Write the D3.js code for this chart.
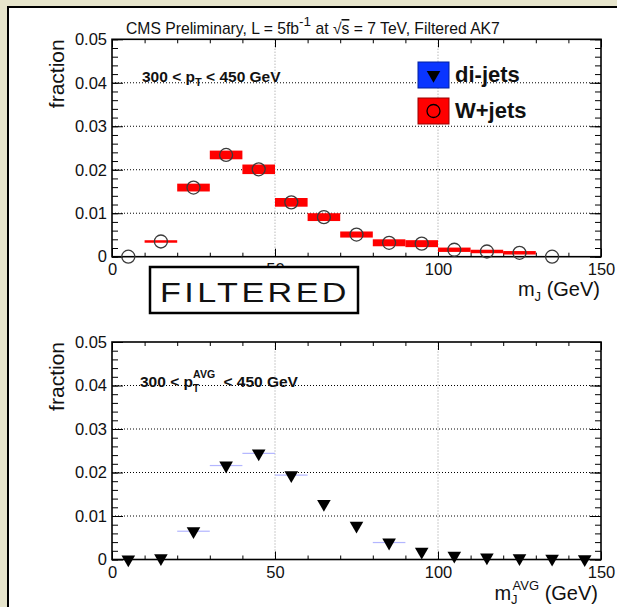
<!DOCTYPE html>
<html><head><meta charset="utf-8">
<script src="https://cdn.jsdelivr.net/npm/d3@7"></script>
<style>
body{margin:0;padding:0;overflow:hidden;background:#e7e5cc;}
text{font-family:"Liberation Sans",Arial,Helvetica,sans-serif;}
</style></head><body>
<svg id="c" width="617" height="607"></svg>
<script>
// ---- data ----
const binCenters = [5,15,25,35,45,55,65,75,85,95,105,115,125,135,145];
const wjetsBins  = [5,15,25,35,45,55,65,75,85,95,105,115,125,135];
const wjetsVals  = [0,0.0035,0.0159,0.0234,0.0201,0.0125,0.0091,0.0051,0.0032,0.0030,0.0016,0.0012,0.0009,0];
const wjetsErr   = [0,0.0002,0.0009,0.0010,0.0011,0.0010,0.0009,0.0007,0.0008,0.0008,0.0005,0.0004,0.0004,0];
const dijetVals  = [0,0.0003,0.0065,0.0216,0.0244,0.0194,0.0128,0.0078,0.0039,0.0018,0.0009,0.0005,0.0003,0.0002,0.0001];
const dijetErr   = [0,0,0.0001,0.0001,0.0001,0.0001,0,0,0.0001,0,0,0,0,0,0];
const xTicks = [0,50,100,150];
const xMinor = [10,20,30,40,60,70,80,90,110,120,130,140];
const yTicks = [0,0.01,0.02,0.03,0.04,0.05];
const yMinor = d3.range(0,0.0501,0.002);
const binWidth = 10;

(function(){
const svg = d3.select("#c");
svg.append("rect").attr("x",0).attr("y",0).attr("width",617).attr("height",607).attr("fill","#e7e5cc");
svg.append("rect").attr("x",8).attr("y",7).attr("width",640).attr("height",640)
  .attr("fill","#fff").attr("stroke","#000").attr("stroke-width",2);

const x = d3.scaleLinear().domain([0,150]).range([112,601]);
const yTop = d3.scaleLinear().domain([0,0.05]).range([256.7,39.3]);
const yBot = d3.scaleLinear().domain([0,0.05]).range([559.5,342]);
const yFmt = d => d===0 ? "0" : d3.format(".2f")(d);

function frame(y){
  const g = svg.append("g");
  const [y0,y1] = y.range();
  g.selectAll("line.hg").data(yTicks.filter(d=>d>0&&d<0.05)).join("line")
    .attr("x1",x(0)).attr("x2",x(150)).attr("y1",d=>y(d)).attr("y2",d=>y(d))
    .attr("stroke","#000").attr("stroke-width",1).attr("stroke-dasharray","1,2");
  g.selectAll("line.vg").data([50,100]).join("line")
    .attr("y1",y0).attr("y2",y1).attr("x1",d=>x(d)).attr("x2",d=>x(d))
    .attr("stroke","#999").attr("stroke-width",1).attr("stroke-dasharray","1,2");
  const ax = (a)=>a.call(s=>s.select(".domain").remove());
  g.append("g").attr("transform",`translate(${x(0)},0)`)
    .call(d3.axisLeft(y).tickValues(yTicks).tickSize(-11).tickPadding(5).tickFormat(yFmt)).call(ax);
  g.append("g").attr("transform",`translate(${x(0)},0)`)
    .call(d3.axisLeft(y).tickValues(yMinor).tickSize(-6).tickFormat("")).call(ax);
  g.append("g").attr("transform",`translate(${x(150)},0)`)
    .call(d3.axisRight(y).tickValues(yTicks).tickSize(-11).tickFormat("")).call(ax);
  g.append("g").attr("transform",`translate(${x(150)},0)`)
    .call(d3.axisRight(y).tickValues(yMinor).tickSize(-6).tickFormat("")).call(ax);
  g.append("g").attr("transform",`translate(0,${y0})`)
    .call(d3.axisBottom(x).tickValues(xTicks).tickSize(-8).tickPadding(7).tickFormat(d3.format("d"))).call(ax);
  g.append("g").attr("transform",`translate(0,${y0})`)
    .call(d3.axisBottom(x).tickValues(xMinor).tickSize(-4).tickFormat("")).call(ax);
  g.append("g").attr("transform",`translate(0,${y1})`)
    .call(d3.axisTop(x).tickValues(xTicks).tickSize(-8).tickFormat("")).call(ax);
  g.append("g").attr("transform",`translate(0,${y1})`)
    .call(d3.axisTop(x).tickValues(xMinor).tickSize(-4).tickFormat("")).call(ax);
  g.selectAll(".tick line").attr("stroke","#000").attr("stroke-width",1);
  g.selectAll(".tick text").attr("font-size",16.5).attr("fill","#111")
    .attr("font-family","'Liberation Sans',Arial,sans-serif");
  g.append("rect").attr("x",x(0)).attr("y",y1).attr("width",x(150)-x(0)).attr("height",y0-y1)
    .attr("fill","none").attr("stroke","#000").attr("stroke-width",1.6);
  g.append("text").attr("transform",`translate(64,${y1}) rotate(-90)`)
    .attr("text-anchor","end").attr("font-size",21).attr("fill","#111").text("fraction");
  return g;
}

// ---- top panel ----
frame(yTop);
const gTop = svg.append("g");
gTop.selectAll("rect.w").data(wjetsBins.map((c,i)=>({c,v:wjetsVals[i],e:wjetsErr[i]})).filter(d=>d.v>0)).join("rect")
  .attr("x",d=>x(d.c-binWidth/2)).attr("width",d=>x(d.c+binWidth/2)-x(d.c-binWidth/2))
  .attr("y",d=>{const h=Math.max(2.5,yTop(d.v-d.e)-yTop(d.v+d.e));return yTop(d.v)-h/2;})
  .attr("height",d=>Math.max(2.5,yTop(d.v-d.e)-yTop(d.v+d.e)))
  .attr("fill","#ff0000");
gTop.selectAll("circle").data(wjetsBins.map((c,i)=>({c,v:wjetsVals[i]}))).join("circle")
  .attr("cx",d=>x(d.c)).attr("cy",d=>yTop(d.v)).attr("r",6.5)
  .attr("fill","none").attr("stroke","#3a3a3a").attr("stroke-width",1.3);

// ---- bottom panel ----
frame(yBot);
const gBot = svg.append("g");
gBot.selectAll("rect.d").data(binCenters.map((c,i)=>({c,v:dijetVals[i],e:dijetErr[i]})).filter(d=>d.e>0)).join("rect")
  .attr("x",d=>x(d.c-binWidth/2)).attr("width",d=>x(d.c+binWidth/2)-x(d.c-binWidth/2))
  .attr("y",d=>{const h=Math.max(1.2,yBot(d.v-d.e)-yBot(d.v+d.e));return yBot(d.v)-h/2;})
  .attr("height",d=>Math.max(1.2,yBot(d.v-d.e)-yBot(d.v+d.e)))
  .attr("fill","#b3b6ff");
const tri = d3.symbol().type(d3.symbolTriangle).size(80);
gBot.selectAll("path.t").data(binCenters.map((c,i)=>({c,v:dijetVals[i]}))).join("path")
  .attr("d",tri).attr("transform",d=>`translate(${x(d.c)},${yBot(d.v)}) rotate(180)`)
  .attr("fill","#000");

// ---- texts ----
const title = svg.append("text").attr("x",126).attr("y",34).attr("font-size",15.7).attr("fill","#111");
title.append("tspan").text("CMS Preliminary, L = 5fb");
title.append("tspan").attr("dy",-8).attr("font-size",13.5).text("-1");
title.append("tspan").attr("dy",8).text(" at ");
title.append("tspan").text("√");
title.append("tspan").attr("text-decoration","overline").text("s");
title.append("tspan").text(" = 7 TeV, Filtered AK7");

const lt = svg.append("text").attr("x",142).attr("y",82).attr("font-size",15.5).attr("font-weight","bold").attr("fill","#111");
lt.append("tspan").text("300 < p");
lt.append("tspan").attr("dy",4).attr("font-size",11).text("T");
lt.append("tspan").attr("dy",-4).text(" < 450 GeV");

const lb = svg.append("text").attr("x",140).attr("y",387).attr("font-size",15.5).attr("font-weight","bold").attr("fill","#111");
lb.append("tspan").text("300 < p");
lb.append("tspan").attr("dy",5).attr("font-size",10).text("T");
lb.append("tspan").attr("dx",-6).attr("dy",-14).attr("font-size",10.5).text("AVG");
lb.append("tspan").attr("dx",4).attr("dy",9).text(" < 450 GeV");

const xt = svg.append("text").attr("x",600).attr("y",296).attr("text-anchor","end").attr("font-size",20).attr("fill","#111");
xt.append("tspan").text("m");
xt.append("tspan").attr("dy",5).attr("font-size",13).text("J");
xt.append("tspan").attr("dy",-5).text(" (GeV)");
const xb = svg.append("text").attr("x",598).attr("y",600).attr("text-anchor","end").attr("font-size",20).attr("fill","#111");
xb.append("tspan").text("m");
xb.append("tspan").attr("dy",4).attr("font-size",13).text("J");
xb.append("tspan").attr("dx",-5).attr("dy",-14).attr("font-size",13).text("AVG");
xb.append("tspan").attr("dy",10).text(" (GeV)");

const leg = svg.append("g");
const legItems = ["di-jets","W+jets"];
const legColors = ["#0a35ff","#ff0000"];
legItems.forEach((t,i)=>{
  const yy = 62 + i*36;
  leg.append("rect").attr("x",418).attr("y",yy).attr("width",31).attr("height",26)
    .attr("fill",legColors[i]).attr("stroke",i===0?"#0020a0":"#900").attr("stroke-width",1);
  if(i===0){
    leg.append("path").attr("d",tri).attr("transform",`translate(433.5,${yy+13}) rotate(180)`).attr("fill","#000");
  } else {
    leg.append("circle").attr("cx",433.5).attr("cy",yy+13).attr("r",6.5).attr("fill","none").attr("stroke","#000").attr("stroke-width",1.3);
  }
  leg.append("text").attr("x",455).attr("y",yy+20).attr("font-size",22).attr("font-weight","bold").attr("fill","#111").text(t);
});

svg.append("rect").attr("x",150).attr("y",267).attr("width",208).attr("height",46)
  .attr("fill","#fff").attr("stroke","#000").attr("stroke-width",2.5);
svg.append("text").attr("transform","translate(255,302) scale(1.22,1)").attr("text-anchor","middle")
  .attr("font-size",28).attr("letter-spacing",2.8).attr("fill","#111").text("FILTERED");
})();
</script></body></html>
